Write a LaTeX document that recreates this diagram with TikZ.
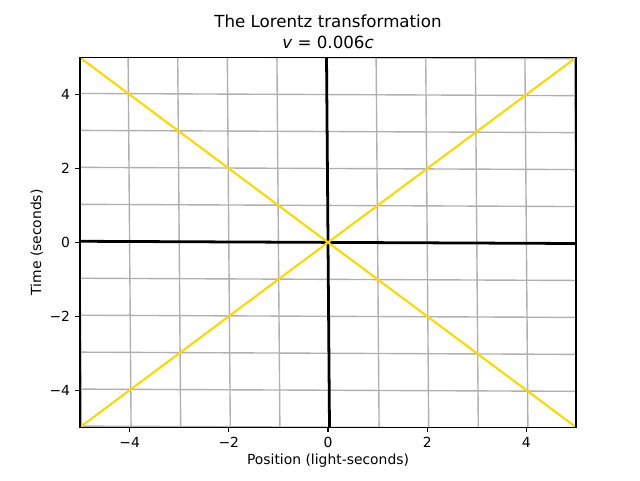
\documentclass[tikz,border=0pt]{standalone}
\usepackage{fontspec}
\setmainfont{DejaVu Sans}
\usepackage{xcolor}
\usepackage{tikz}
\usetikzlibrary{positioning}
\definecolor{gridgray}{HTML}{B0B0B0}
\definecolor{conegold}{HTML}{FFD700}
\tikzset{
    gridline/.style={draw=gridgray, line width=1pt},
    worldaxis/.style={draw=black, line width=2pt},
    lightray/.style={draw=conegold, line width=1.5pt},
    frame/.style={draw=black, line width=0.8pt},
    tick/.style={draw=black, line width=0.8pt},
    ticklabel/.style={inner sep=0pt, font=\fontsize{10}{12}\selectfont},
    axislabel/.style={inner sep=0pt, font=\fontsize{10}{12}\selectfont},
    plottitle/.style={inner sep=0pt, align=center, font=\fontsize{12}{15}\selectfont}
}
\begin{document}
\begin{tikzpicture}[x=35.712pt, y=26.611pt]
        % Canvas
        \useasboundingbox (-6.613,-6.429) rectangle (6.290,6.558);
        
        % Boosted grid, axes and light cone
        \begin{scope}
            \clip (-5,-5) rectangle (5,5);
            \foreach \k in {-6,...,6} {
                \draw[gridline] (\k+0.036,-6) -- (\k-0.036,6);
                \draw[gridline] (-6,\k+0.036) -- (6,\k-0.036);
            }
            \draw[worldaxis] (0.03,-5) -- (-0.03,5);
            \draw[worldaxis] (-5,0.03) -- (5,-0.03);
            \draw[lightray] (-5,-5) -- (5,5);
            \draw[lightray] (-5,5) -- (5,-5);
        \end{scope}
        
        % Frame
        \draw[frame] (-5,-5) rectangle (5,5);
        
        % Ticks
        \foreach \t/\lab [count=\i] in {-4/−4, -2/−2, 0/0, 2/2, 4/4} {
            \draw[tick] (\t,-5) -- ++(0,-3.5pt) coordinate (xt\i);
            \node[ticklabel, below=3.5pt of xt\i] (xtick\i) {\lab};
            \draw[tick] (-5,\t) -- ++(-3.5pt,0) coordinate (yt\i);
            \node[ticklabel, left=3.5pt of yt\i] (ytick\i) {\lab};
        }
        
        % Labels
        \node[axislabel, below=4pt of xtick3] (xlabel) {Position (light-seconds)};
        \node[axislabel, rotate=90] (ylabel) at (-5.87,0) {Time (seconds)};
        \node[plottitle, above=6pt] (title) at (0,5) {The Lorentz transformation\\\textit{v} = 0.006\textit{c}};
        
    \end{tikzpicture}
\end{document}
